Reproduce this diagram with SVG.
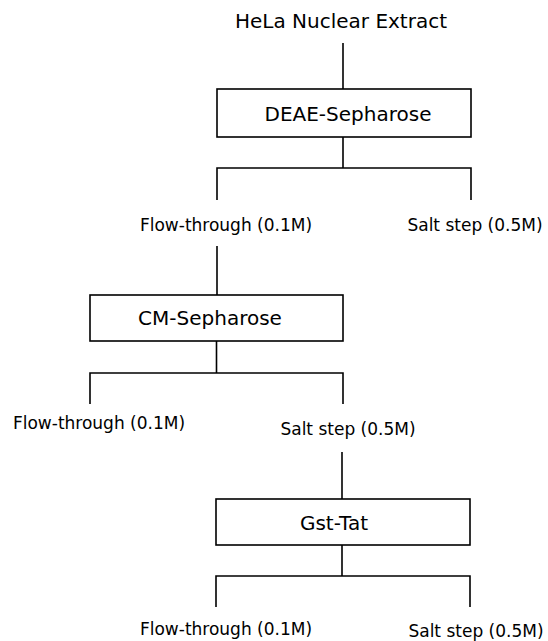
<svg xmlns="http://www.w3.org/2000/svg" width="548" height="641" viewBox="0 0 548 641">
<style>
  .ln { stroke: #000; stroke-width: 1.6; fill: none; }
  .box { stroke: #000; stroke-width: 1.6; fill: #fff; }
  .lbl { font-family: "DejaVu Sans", "Liberation Sans", sans-serif; font-size: 17px; fill: #000; text-anchor: middle; }
  .big { font-family: "DejaVu Sans", "Liberation Sans", sans-serif; font-size: 20px; fill: #000; text-anchor: middle; }
</style>
<rect width="548" height="641" fill="#fff"/>
<g id="connectors">
  <path class="ln" d="M343 43 V89"/>
  <path class="ln" d="M343 137 V168 M217 200 V168 H471 V200"/>
  <path class="ln" d="M217 246 V295"/>
  <path class="ln" d="M216.5 341 V373 M90 404 V373 H343 V404"/>
  <path class="ln" d="M342 452 V499"/>
  <path class="ln" d="M342 545 V576 M216 607 V576 H470 V607"/>
</g>
<g id="title"><text class="big" x="341" y="28">HeLa Nuclear Extract</text></g>
<g id="deae">
  <rect class="box" x="217" y="89" width="254" height="48"/>
  <text class="big" x="348" y="121">DEAE-Sepharose</text>
</g>
<g id="deae-flow"><text class="lbl" x="226" y="231">Flow-through (0.1M)</text></g>
<g id="deae-salt"><text class="lbl" x="475" y="231">Salt step (0.5M)</text></g>
<g id="cm">
  <rect class="box" x="90" y="295" width="253" height="46"/>
  <text class="big" x="210" y="325">CM-Sepharose</text>
</g>
<g id="cm-flow"><text class="lbl" x="99" y="429">Flow-through (0.1M)</text></g>
<g id="cm-salt"><text class="lbl" x="348" y="435">Salt step (0.5M)</text></g>
<g id="gst">
  <rect class="box" x="216" y="499" width="254" height="46"/>
  <text class="big" x="334" y="530">Gst-Tat</text>
</g>
<g id="gst-flow"><text class="lbl" x="226" y="635">Flow-through (0.1M)</text></g>
<g id="gst-salt"><text class="lbl" x="476" y="637">Salt step (0.5M)</text></g>
</svg>
